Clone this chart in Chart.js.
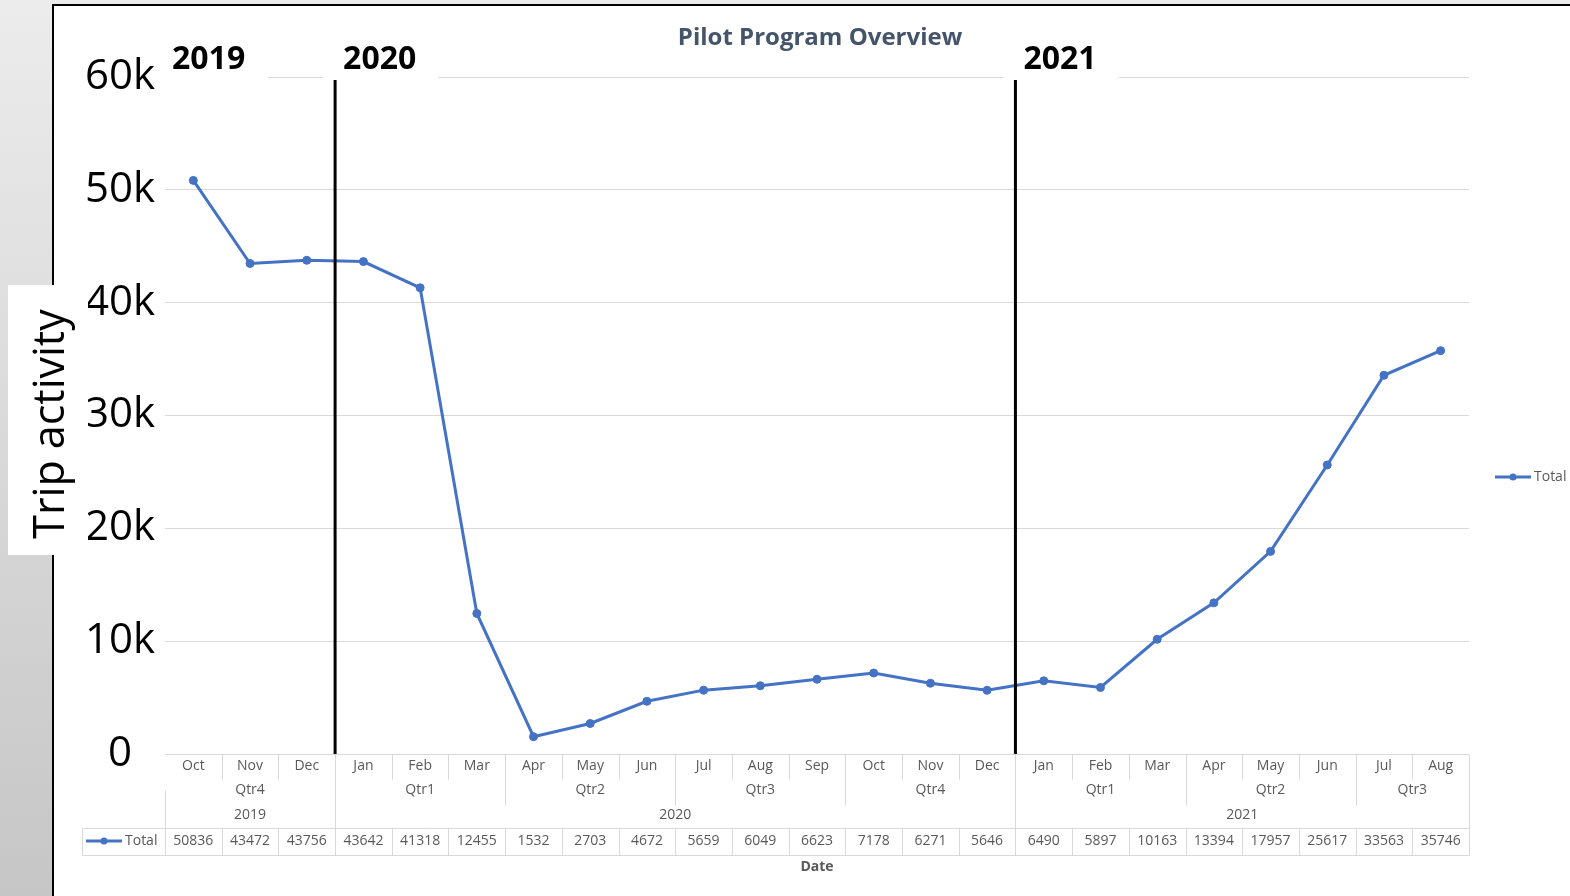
<!DOCTYPE html>
<html>
<head>
<meta charset="utf-8">
<script src="https://cdn.jsdelivr.net/npm/chart.js@4.4.1/dist/chart.umd.min.js"></script>
<style>
  html, body { margin: 0; padding: 0; background: #fff; }
  #wrap { width: 1570px; height: 896px; position: relative; }
</style>
</head>
<body>
<div id="wrap"><canvas id="meuGrafico" width="1570" height="896"></canvas></div>
<script>
// dados do gráfico
const meses = ['Oct', 'Nov', 'Dec', 'Jan', 'Feb', 'Mar', 'Apr', 'May', 'Jun', 'Jul', 'Aug', 'Sep',
  'Oct', 'Nov', 'Dec', 'Jan', 'Feb', 'Mar', 'Apr', 'May', 'Jun', 'Jul', 'Aug'];
const trimestres = ['Qtr4', 'Qtr4', 'Qtr4', 'Qtr1', 'Qtr1', 'Qtr1', 'Qtr2', 'Qtr2', 'Qtr2', 'Qtr3', 'Qtr3', 'Qtr3',
  'Qtr4', 'Qtr4', 'Qtr4', 'Qtr1', 'Qtr1', 'Qtr1', 'Qtr2', 'Qtr2', 'Qtr2', 'Qtr3', 'Qtr3'];
const anos = ['2019', '2019', '2019', '2020', '2020', '2020', '2020', '2020', '2020', '2020', '2020', '2020',
  '2020', '2020', '2020', '2021', '2021', '2021', '2021', '2021', '2021', '2021', '2021'];
const totais = [50836, 43472, 43756, 43642, 41318, 12455, 1532, 2703, 4672, 5659, 6049, 6623,
  7178, 6271, 5646, 6490, 5897, 10163, 13394, 17957, 25617, 33563, 35746];
const yTicks = [0, 10000, 20000, 30000, 40000, 50000, 60000];

const azul = '#4472C4';
const cinzaTexto = '#595959';
const cinzaLinha = '#d9d9d9';
const fonte = '"Open Sans", "Liberation Sans", sans-serif';

// agrupa valores consecutivos iguais -> [{label, ini, fim}]
function grupos(chaves, rotulos) {
  const out = [];
  for (let i = 0; i < chaves.length; i++) {
    const last = out[out.length - 1];
    if (last && last.key === chaves[i]) last.fim = i;
    else out.push({ key: chaves[i], label: rotulos[i], ini: i, fim: i });
  }
  return out;
}

const fundoPlugin = {
  id: 'fundo',
  beforeDraw(chart) {
    const ctx = chart.ctx;
    const w = chart.width, h = chart.height;
    ctx.save();
    const g = ctx.createLinearGradient(0, 0, 0, h);
    g.addColorStop(0, '#ececec');
    g.addColorStop(1, '#c6c6c6');
    ctx.fillStyle = g;
    ctx.fillRect(0, 0, w, h);
    ctx.fillStyle = '#fff';
    ctx.fillRect(53, 5, w - 53, h - 5);
    ctx.strokeStyle = '#000';
    ctx.lineWidth = 2;
    ctx.beginPath();
    ctx.moveTo(53, h);
    ctx.lineTo(53, 5);
    ctx.lineTo(w, 5);
    ctx.stroke();
    ctx.restore();
  }
};

const extrasPlugin = {
  id: 'extras',
  afterDraw(chart) {
    const ctx = chart.ctx;
    const x = chart.scales.x;
    const area = chart.chartArea;
    const n = meses.length;
    const colW = x.getPixelForValue(1) - x.getPixelForValue(0);
    const borda = (i) => x.getPixelForValue(i) - colW / 2;
    const centro = (a, b) => (x.getPixelForValue(a) + x.getPixelForValue(b)) / 2;

    ctx.save();

    // título
    ctx.fillStyle = '#44546A';
    ctx.font = 'bold 24px ' + fonte;
    ctx.textAlign = 'center';
    ctx.textBaseline = 'alphabetic';
    ctx.fillText('Pilot Program Overview', (area.left + area.right) / 2 + 3, 45);

    // rótulos de ano e linhas verticais
    const gAno = grupos(anos, anos);
    ctx.font = 'bold 32px ' + fonte;
    ctx.textAlign = 'left';
    gAno.forEach((g) => {
      const bx = g.ini === 0 ? area.left : borda(g.ini);
      const tw = ctx.measureText(g.label).width;
      ctx.fillStyle = '#fff';
      ctx.fillRect(bx - 12, area.top - 6, tw + 42, 12);
      if (g.ini > 0) {
        ctx.strokeStyle = '#000';
        ctx.lineWidth = 3;
        ctx.beginPath();
        ctx.moveTo(bx, area.top + 3);
        ctx.lineTo(bx, area.bottom);
        ctx.stroke();
      }
      ctx.fillStyle = '#000';
      ctx.fillText(g.label, bx + (g.ini === 0 ? 7 : 8), 69);
    });

    // título do eixo y
    ctx.fillStyle = '#fff';
    ctx.fillRect(8, 285, 80, 270);
    ctx.save();
    ctx.translate(64, 424);
    ctx.rotate(-Math.PI / 2);
    ctx.fillStyle = '#000';
    ctx.font = '43px ' + fonte;
    ctx.textAlign = 'center';
    ctx.textBaseline = 'alphabetic';
    ctx.fillText('Trip activity', 0, 0);
    ctx.restore();

    // legenda à direita
    desenhaMarcador(ctx, 1495, 477);
    ctx.fillStyle = cinzaTexto;
    ctx.font = '14px ' + fonte;
    ctx.textAlign = 'left';
    ctx.textBaseline = 'middle';
    ctx.fillText('Total', 1534, 477);

    // tabela de dados
    const yTopo = area.bottom;
    const yMes = 779, yTri = 805, yDadosTopo = 828, yDadosBase = 855;
    ctx.strokeStyle = cinzaLinha;
    ctx.lineWidth = 1;
    const linha = (x1, y1, x2, y2) => {
      ctx.beginPath();
      ctx.moveTo(Math.round(x1) + 0.5, Math.round(y1) + 0.5);
      ctx.lineTo(Math.round(x2) + 0.5, Math.round(y2) + 0.5);
      ctx.stroke();
    };
    linha(area.left, yTopo, area.right, yTopo);
    linha(82, yDadosTopo, area.right, yDadosTopo);
    linha(82, yDadosBase, area.right, yDadosBase);
    linha(82, yDadosTopo, 82, yDadosBase);
    linha(area.left, 790, area.left, yDadosBase);
    linha(area.right, yTopo, area.right, yDadosBase);
    for (let i = 1; i < n; i++) {
      const bx = borda(i);
      let fim = yMes;
      if (anos[i] !== anos[i - 1]) fim = yDadosTopo;
      else if (trimestres[i] !== trimestres[i - 1]) fim = yTri;
      linha(bx, yTopo, bx, fim);
      linha(bx, yDadosTopo, bx, yDadosBase);
    }

    ctx.fillStyle = cinzaTexto;
    ctx.font = '14px ' + fonte;
    ctx.textAlign = 'center';
    ctx.textBaseline = 'middle';
    grupos(trimestres.map((t, i) => anos[i] + t), trimestres).forEach((g) => {
      ctx.fillText(g.label, centro(g.ini, g.fim), 790);
    });
    gAno.forEach((g) => {
      ctx.fillText(g.label, centro(g.ini, g.fim), 815);
    });
    totais.forEach((v, i) => {
      ctx.fillText(String(v), x.getPixelForValue(i), 841);
    });

    desenhaMarcador(ctx, 86, 841);
    ctx.textAlign = 'left';
    ctx.fillText('Total', 125, 841);

    ctx.font = 'bold 14px ' + fonte;
    ctx.textAlign = 'center';
    ctx.fillText('Date', (area.left + area.right) / 2, 867);

    ctx.restore();
  }
};

function desenhaMarcador(ctx, x0, y) {
  ctx.save();
  ctx.strokeStyle = azul;
  ctx.lineWidth = 3;
  ctx.beginPath();
  ctx.moveTo(x0, y);
  ctx.lineTo(x0 + 36, y);
  ctx.stroke();
  ctx.fillStyle = azul;
  ctx.beginPath();
  ctx.arc(x0 + 18, y, 3.5, 0, Math.PI * 2);
  ctx.fill();
  ctx.restore();
}

const ctx = document.getElementById('meuGrafico').getContext('2d');

const meuGrafico = new Chart(ctx, {
  type: 'line',
  data: {
    labels: meses,
    datasets: [{
      label: 'Total',
      data: totais,
      borderColor: azul,
      backgroundColor: azul,
      borderWidth: 3,
      pointRadius: 4,
      pointBackgroundColor: azul,
      pointBorderColor: azul,
      pointBorderWidth: 1,
      tension: 0
    }]
  },
  options: {
    responsive: false,
    animation: false,
    layout: { padding: { left: 52, right: 101, top: 77, bottom: 0 } },
    plugins: {
      legend: { display: false },
      title: { display: false },
      tooltip: { enabled: false }
    },
    scales: {
      x: {
        offset: true,
        grid: { display: false, drawTicks: false },
        border: { display: false },
        ticks: {
          color: cinzaTexto,
          font: { family: fonte, size: 14 },
          padding: 4,
          maxRotation: 0,
          autoSkip: false
        },
        afterFit(s) { s.height = 142; }
      },
      y: {
        min: 0,
        max: 60000,
        afterBuildTicks(s) { s.ticks = yTicks.map((v) => ({ value: v })); },
        grid: { color: cinzaLinha, drawTicks: false },
        border: { display: false },
        ticks: {
          color: '#000',
          font: { family: fonte, size: 42 },
          crossAlign: 'center',
          padding: 10,
          callback: (v) => (v === 0 ? '0' : (v / 1000) + 'k')
        },
        afterFit(s) { s.width = 113; }
      }
    }
  },
  plugins: [fundoPlugin, extrasPlugin]
});
</script>
</body>
</html>
